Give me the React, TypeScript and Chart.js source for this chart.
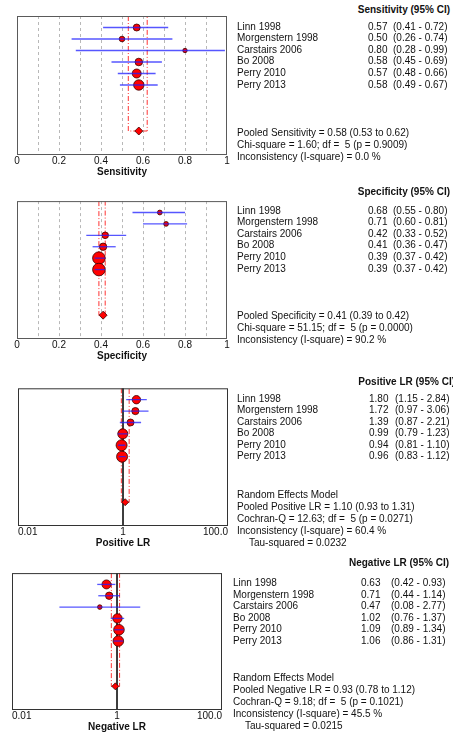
import React, { useEffect, useRef } from 'react';
import { Chart, registerables } from 'chart.js';

Chart.register(...registerables);

// ---------------- DATA ----------------
const studies = ['Linn 1998', 'Morgenstern 1998', 'Carstairs 2006', 'Bo 2008', 'Perry 2010', 'Perry 2013'];

const sensEst = [0.57, 0.50, 0.80, 0.58, 0.57, 0.58];
const sensLo = [0.41, 0.26, 0.28, 0.45, 0.48, 0.49];
const sensHi = [0.72, 0.74, 0.99, 0.69, 0.66, 0.67];
const sensPooled = [0.58, 0.53, 0.62];
const sensStats = [
  'Pooled Sensitivity = 0.58 (0.53 to 0.62)',
  'Chi-square = 1.60; df =  5 (p = 0.9009)',
  'Inconsistency (I-square) = 0.0 %',
];

const specEst = [0.68, 0.71, 0.42, 0.41, 0.39, 0.39];
const specLo = [0.55, 0.60, 0.33, 0.36, 0.37, 0.37];
const specHi = [0.80, 0.81, 0.52, 0.47, 0.42, 0.42];
const specPooled = [0.41, 0.39, 0.42];
const specStats = [
  'Pooled Specificity = 0.41 (0.39 to 0.42)',
  'Chi-square = 51.15; df =  5 (p = 0.0000)',
  'Inconsistency (I-square) = 90.2 %',
];

const plrEst = [1.80, 1.72, 1.39, 0.99, 0.94, 0.96];
const plrLo = [1.15, 0.97, 0.87, 0.79, 0.81, 0.83];
const plrHi = [2.84, 3.06, 2.21, 1.23, 1.10, 1.12];
const plrPooled = [1.10, 0.93, 1.31];
const plrStats = [
  'Random Effects Model',
  'Pooled Positive LR = 1.10 (0.93 to 1.31)',
  'Cochran-Q = 12.63; df =  5 (p = 0.0271)',
  'Inconsistency (I-square) = 60.4 %',
  'Tau-squared = 0.0232',
];

const nlrEst = [0.63, 0.71, 0.47, 1.02, 1.09, 1.06];
const nlrLo = [0.42, 0.44, 0.08, 0.76, 0.89, 0.86];
const nlrHi = [0.93, 1.14, 2.77, 1.37, 1.34, 1.31];
const nlrPooled = [0.93, 0.78, 1.12];
const nlrStats = [
  'Random Effects Model',
  'Pooled Negative LR = 0.93 (0.78 to 1.12)',
  'Cochran-Q = 9.18; df =  5 (p = 0.1021)',
  'Inconsistency (I-square) = 45.5 %',
  'Tau-squared = 0.0215',
];

const linearGridValues = [0, 0.1, 0.2, 0.3, 0.4, 0.5, 0.6, 0.7, 0.8, 0.9, 1];
const linearTickValues = [0, 0.2, 0.4, 0.6, 0.8, 1];
const linearTickLabels = ['0', '0.2', '0.4', '0.6', '0.8', '1'];
const logTickValues = [0.01, 1, 100];
const logTickLabels = ['0.01', '1', '100.0'];

// ---------------- STYLE / LAYOUT ----------------
const FONT = '"Liberation Sans", Arial, sans-serif';
const ROWS_MAX = 12;
const POOLED_ROW = 10;
const CANVAS_W = 240;
const PAD_TOP = 5;
const AXIS_H = 24;

type Panel = {
  kind: 'linear' | 'log';
  title: string;
  axisTitle: string;
  est: number[];
  lo: number[];
  hi: number[];
  pooled: number[];
  stats: string[];
  statsY: number[];
  indentLast: boolean;
  radii: number[];
  diamondR: number;
  box: { left: number; right: number; top: number; bottom: number };
  borderColor: string;
  titleY: number;
  titleRight: number;
  labelX: number;
  valueX: number;
  ciX: number;
};

const panels: Panel[] = [
  {
    kind: 'linear', title: 'Sensitivity (95% CI)', axisTitle: 'Sensitivity',
    est: sensEst, lo: sensLo, hi: sensHi, pooled: sensPooled, stats: sensStats,
    statsY: [133, 145, 157], indentLast: false,
    radii: [3.5, 2.8, 2.2, 3.8, 4.5, 5.2], diamondR: 4,
    box: { left: 17, right: 227, top: 15, bottom: 154 }, borderColor: '#5a5a5a',
    titleY: 10, titleRight: 450, labelX: 237, valueX: 368, ciX: 393,
  },
  {
    kind: 'linear', title: 'Specificity (95% CI)', axisTitle: 'Specificity',
    est: specEst, lo: specLo, hi: specHi, pooled: specPooled, stats: specStats,
    statsY: [316, 328, 340], indentLast: false,
    radii: [2.4, 2.4, 3.3, 3.7, 6.3, 6.3], diamondR: 4,
    box: { left: 17, right: 227, top: 199, bottom: 338 }, borderColor: '#5a5a5a',
    titleY: 192, titleRight: 450, labelX: 237, valueX: 368, ciX: 393,
  },
  {
    kind: 'log', title: 'Positive LR (95% CI)', axisTitle: 'Positive LR',
    est: plrEst, lo: plrLo, hi: plrHi, pooled: plrPooled, stats: plrStats,
    statsY: [495, 507, 519, 531, 543], indentLast: true,
    radii: [4.2, 3.6, 3.5, 5, 5.5, 5.5], diamondR: 3.5,
    box: { left: 18, right: 228, top: 387, bottom: 525 }, borderColor: '#333333',
    titleY: 382, titleRight: 455, labelX: 237, valueX: 369, ciX: 395,
  },
  {
    kind: 'log', title: 'Negative LR (95% CI)', axisTitle: 'Negative LR',
    est: nlrEst, lo: nlrLo, hi: nlrHi, pooled: nlrPooled, stats: nlrStats,
    statsY: [678, 690, 702, 714, 726], indentLast: true,
    radii: [4.5, 3.7, 2.3, 4.7, 5.3, 5.3], diamondR: 3.5,
    box: { left: 12, right: 222, top: 572, bottom: 709 }, borderColor: '#333333',
    titleY: 563, titleRight: 449, labelX: 233, valueX: 361, ciX: 391,
  },
];

const boxPlugin = {
  id: 'boxFrame',
  afterDraw(chart: any, _args: any, opts: any) {
    const { ctx, chartArea: a } = chart;
    ctx.save();
    ctx.strokeStyle = opts.color || '#444';
    ctx.lineWidth = 1;
    ctx.strokeRect(a.left + 0.5, a.top + 0.5, a.right - a.left - 1, a.bottom - a.top);
    ctx.restore();
  },
};

function ForestCanvas({ p }: { p: Panel }) {
  const ref = useRef<HTMLCanvasElement>(null);
  const H = p.box.bottom - p.box.top + PAD_TOP + AXIS_H;

  useEffect(() => {
    if (!ref.current) return;
    const datasets: any[] = [];
    // blue confidence interval lines (on top)
    p.est.forEach((_, i) => {
      datasets.push({
        data: [{ x: p.lo[i], y: i + 1 }, { x: p.hi[i], y: i + 1 }],
        showLine: true, pointRadius: 0, borderColor: 'rgba(30,30,255,0.75)', borderWidth: 1.3,
        order: 0,
      });
    });
    // study markers
    datasets.push({
      data: p.est.map((x, i) => ({ x, y: i + 1 })),
      pointRadius: p.radii, pointBackgroundColor: '#ff0000', pointBorderColor: '#3a0000',
      pointBorderWidth: 0.8, order: 1,
    });
    // pooled diamond
    datasets.push({
      data: [{ x: p.pooled[0], y: POOLED_ROW }],
      pointStyle: 'rectRot', pointRadius: p.diamondR, pointBackgroundColor: '#ff0000',
      pointBorderColor: '#3a0000', pointBorderWidth: 0.8, order: 2,
    });
    // pooled CI bracket
    datasets.push({
      data: [
        { x: p.pooled[1], y: 0 }, { x: p.pooled[1], y: POOLED_ROW },
        { x: p.pooled[2], y: POOLED_ROW }, { x: p.pooled[2], y: 0 },
      ],
      showLine: true, pointRadius: 0, borderColor: 'rgba(255,30,30,0.9)', borderWidth: 1,
      borderDash: [5, 2, 1, 2], order: 3,
    });
    if (p.kind === 'log') {
      datasets.push({
        data: [{ x: 1, y: 0 }, { x: 1, y: ROWS_MAX }],
        showLine: true, pointRadius: 0, borderColor: '#222', borderWidth: 1, order: 4,
      });
    }

    const tickFont = { family: FONT, size: 10 };
    const xScale: any =
      p.kind === 'linear'
        ? {
            type: 'linear', min: 0, max: 1,
            afterBuildTicks: (s: any) => { s.ticks = linearGridValues.map((v) => ({ value: v })); },
            ticks: {
              font: tickFont, color: '#111', padding: 1, maxRotation: 0, autoSkip: false,
              callback: (v: any) => {
                const idx = linearTickValues.findIndex((t) => Math.abs(t - Number(v)) < 1e-9);
                return idx >= 0 ? linearTickLabels[idx] : '';
              },
            },
            grid: {
              display: true, drawOnChartArea: true, drawTicks: false, lineWidth: 1,
              color: (c: any) => (c.tick && (c.tick.value <= 0.0001 || c.tick.value >= 0.9999) ? 'rgba(0,0,0,0)' : '#b8b8b8'),
            },
            border: { display: false, dash: [3, 3] },
          }
        : {
            type: 'logarithmic', min: 0.01, max: 100,
            afterBuildTicks: (s: any) => { s.ticks = logTickValues.map((v) => ({ value: v })); },
            ticks: {
              font: tickFont, color: '#111', padding: 1, maxRotation: 0, autoSkip: false, align: 'inner',
              callback: (_v: any, i: number) => logTickLabels[i] ?? '',
            },
            grid: { display: false, drawTicks: false },
            border: { display: false },
          };
    xScale.title = {
      display: true, text: p.axisTitle, color: '#111', padding: 0,
      font: { family: FONT, size: 10, weight: 'bold' },
    };
    xScale.afterFit = (s: any) => { s.height = AXIS_H; };

    const chart = new Chart(ref.current, {
      type: 'scatter',
      data: { datasets },
      options: {
        animation: false,
        responsive: false,
        events: [],
        layout: { padding: { left: p.box.left, right: CANVAS_W - p.box.right, top: PAD_TOP, bottom: 0 } },
        plugins: {
          legend: { display: false },
          tooltip: { enabled: false },
          boxFrame: { color: p.borderColor },
        } as any,
        scales: {
          x: xScale,
          y: { type: 'linear', min: 0, max: ROWS_MAX, reverse: true, display: false },
        },
      },
      plugins: [boxPlugin],
    });
    return () => chart.destroy();
  }, [p]);

  return (
    <canvas
      ref={ref}
      width={CANVAS_W}
      height={H}
      style={{ position: 'absolute', left: 0, top: p.box.top - PAD_TOP, width: CANVAS_W, height: H }}
    />
  );
}

const textBase: React.CSSProperties = {
  position: 'absolute',
  fontFamily: FONT,
  fontSize: 10,
  lineHeight: '12px',
  whiteSpace: 'pre',
  color: '#111',
};

function PanelText({ p }: { p: Panel }) {
  const rowH = (p.box.bottom - p.box.top) / ROWS_MAX;
  return (
    <>
      <div style={{ ...textBase, fontWeight: 'bold', right: 453 - p.titleRight, top: p.titleY - 6 }}>{p.title}</div>
      {studies.map((s, i) => {
        const y = p.box.top + (i + 1) * rowH - 6;
        return (
          <React.Fragment key={s}>
            <div style={{ ...textBase, left: p.labelX, top: y }}>{s}</div>
            <div style={{ ...textBase, left: p.valueX, top: y }}>{p.est[i].toFixed(2)}</div>
            <div style={{ ...textBase, left: p.ciX, top: y }}>{`(${p.lo[i].toFixed(2)} - ${p.hi[i].toFixed(2)})`}</div>
          </React.Fragment>
        );
      })}
      {p.stats.map((s, i) => (
        <div
          key={s}
          style={{
            ...textBase,
            left: p.labelX + (p.indentLast && i === p.stats.length - 1 ? 12 : 0),
            top: p.statsY[i] - 6,
          }}
        >
          {s}
        </div>
      ))}
    </>
  );
}

export default function App() {
  useEffect(() => {
    document.body.style.margin = '0';
    document.body.style.background = '#ffffff';
  }, []);
  return (
    <div style={{ position: 'absolute', left: 0, top: 0, width: 453, height: 736, overflow: 'hidden', background: '#fff' }}>
      {panels.map((p) => (
        <ForestCanvas key={p.axisTitle} p={p} />
      ))}
      {panels.map((p) => (
        <PanelText key={p.title} p={p} />
      ))}
    </div>
  );
}
